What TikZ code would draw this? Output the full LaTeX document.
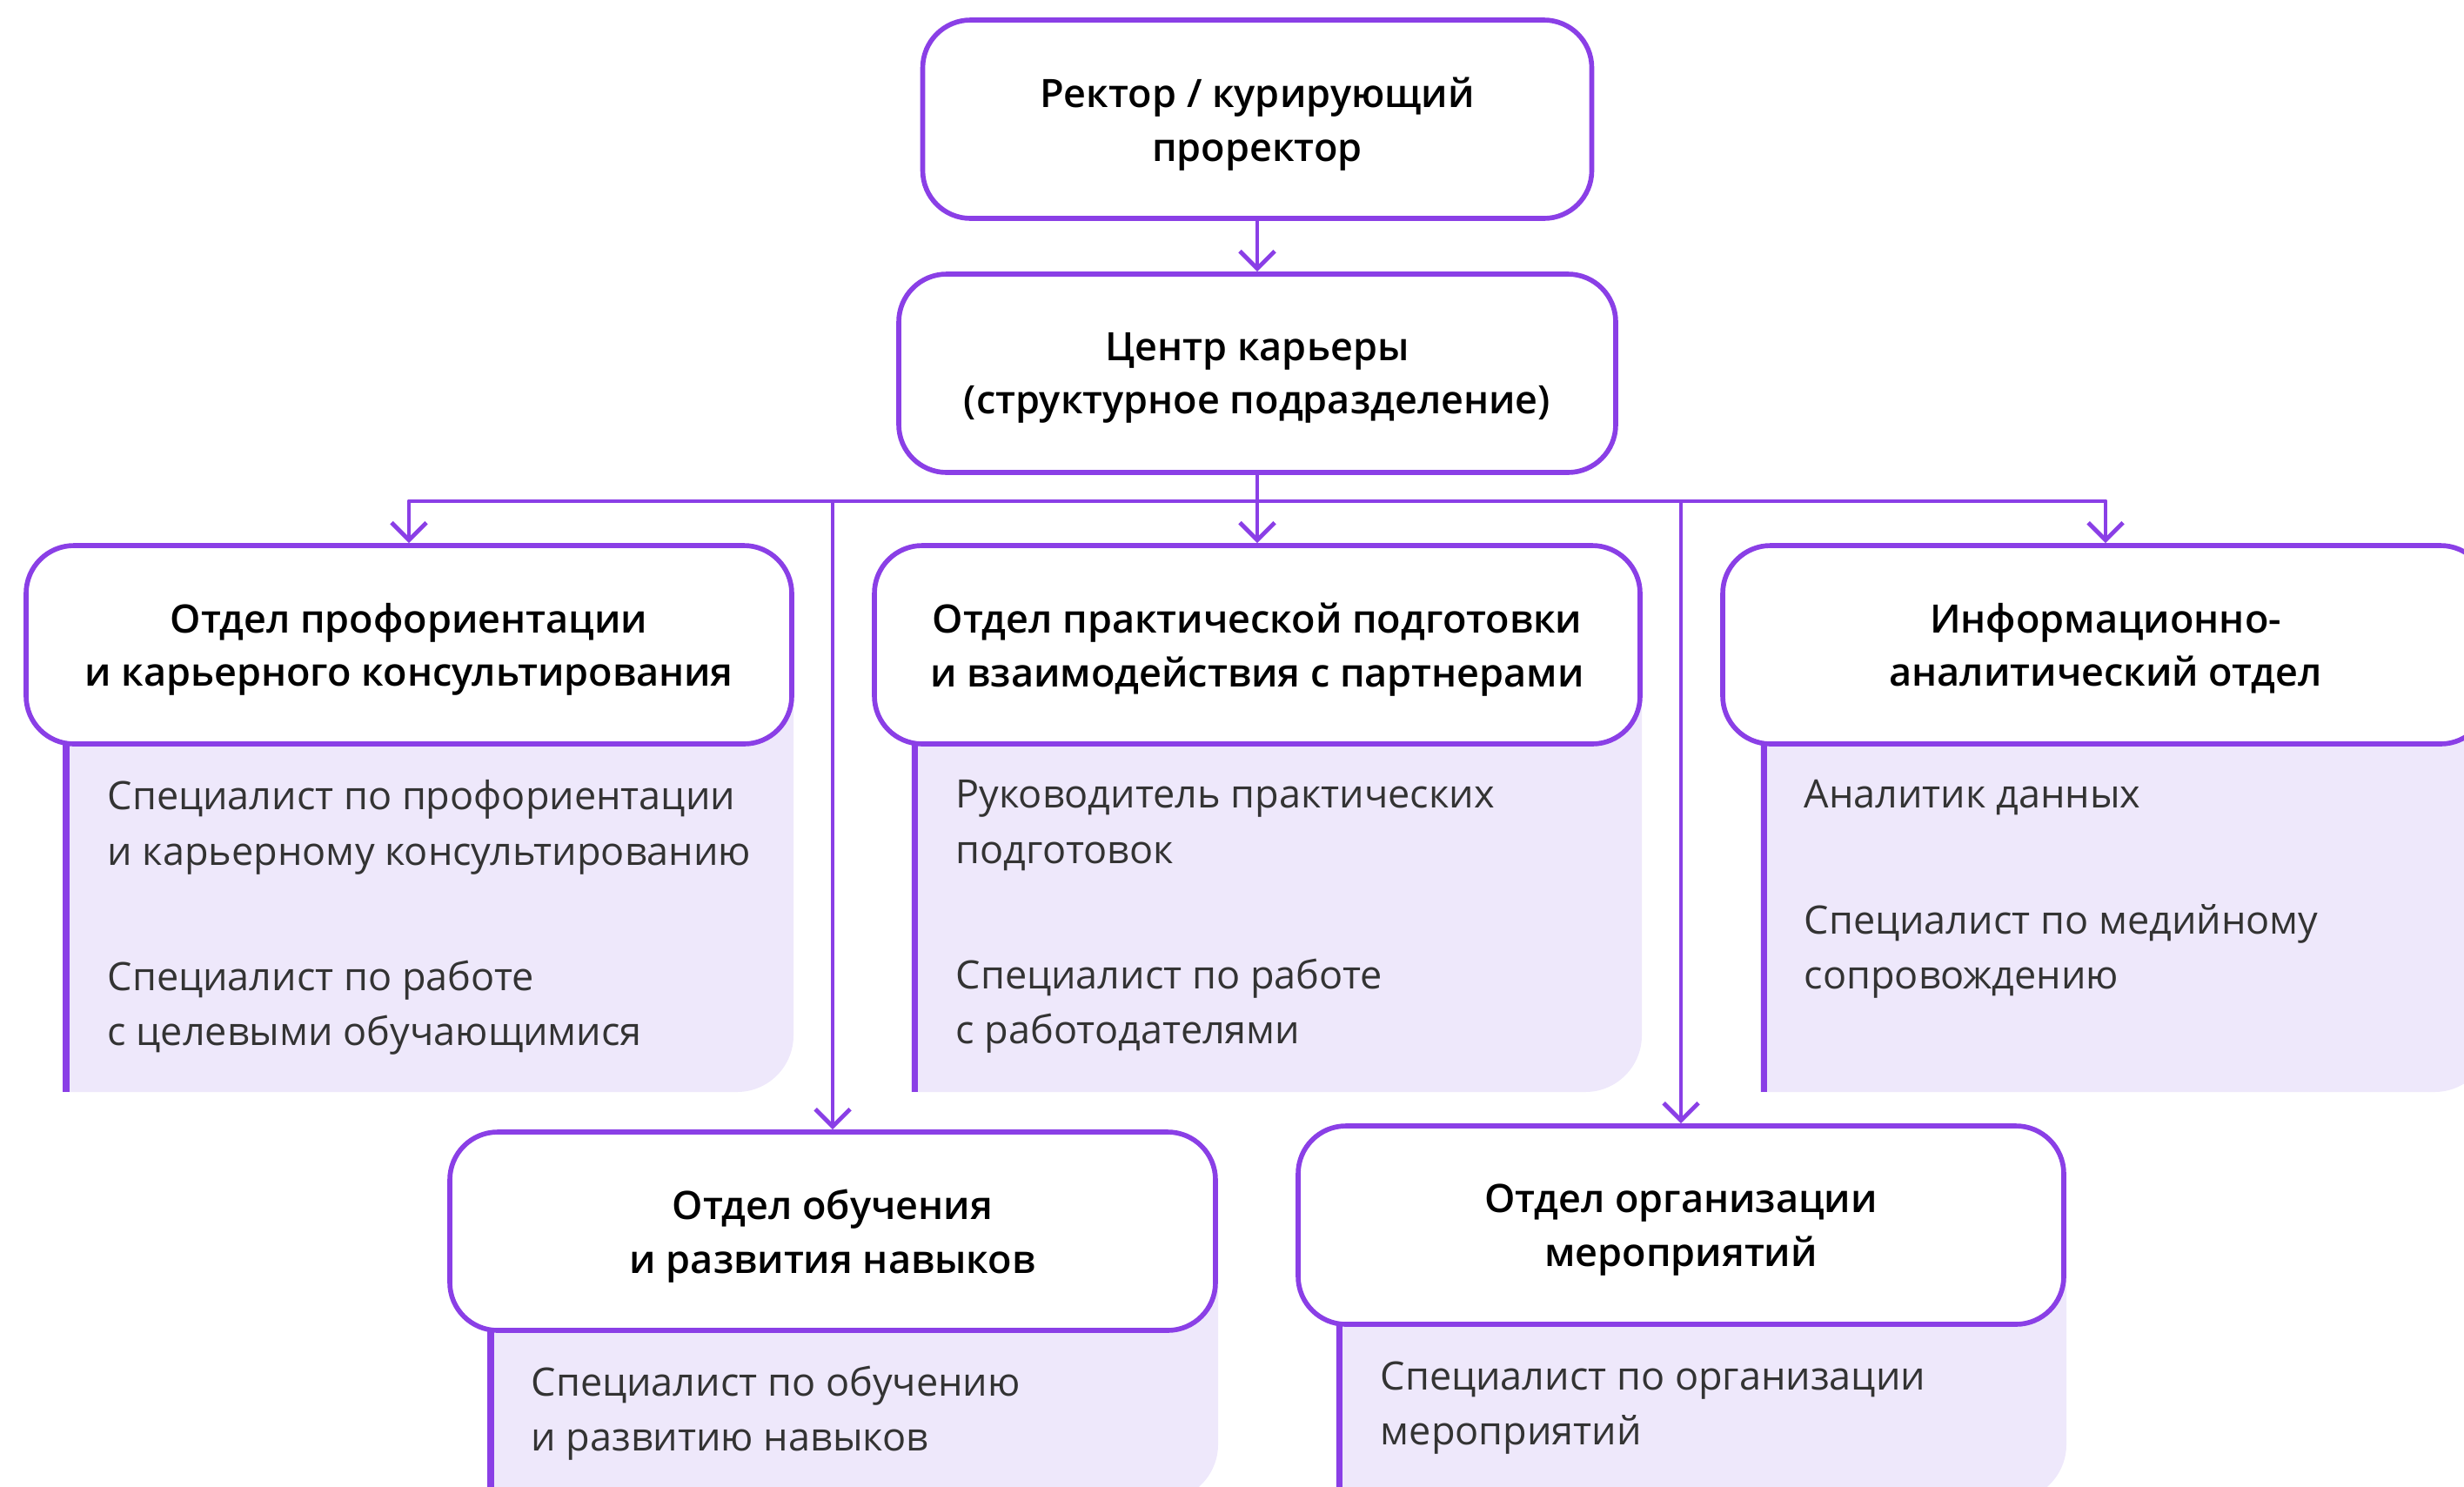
\documentclass[tikz,border=0pt]{standalone}
\usepackage{fontspec}
\IfFontExistsTF{Open Sans Semibold}
  {\setmainfont{Open Sans}[BoldFont={Open Sans Semibold}]}
  {\setmainfont{Open Sans}[BoldFont={Open Sans}, BoldFeatures={FakeBold=1.8}]}
\usetikzlibrary{arrows.meta}
\definecolor{cvio}{HTML}{8A3FE6}
\definecolor{lilac}{HTML}{EEE8FB}
\definecolor{inkgray}{HTML}{333333}

\begin{document}
\begin{tikzpicture}[
                box/.style={draw=cvio, line width=1.6pt, fill=white, rounded corners=0.55cm, minimum width=8.8cm, minimum height=2.28cm, align=center, text depth=0pt, text=black, font=\bfseries\fontsize{12.8}{17.5}\selectfont},
                link/.style={draw=cvio, line width=1.4pt, line cap=round, line join=round},
                arr/.style={link, -{Straight Barb[length=0.2cm, width=0.4cm]}},
                panel/.style={fill=lilac},
                bar/.style={draw=cvio, line width=2pt},
                staff/.style={anchor=north west, inner sep=0pt, align=left, text=inkgray, font=\fontsize{12.8}{18}\selectfont}
            ]
                \useasboundingbox (0,0) rectangle (28.32,-17.08);

                \fill[panel] (0.72,-7.40) -- (9.12,-7.40) -- (9.12,-11.90) arc[start angle=0, end angle=-90, radius=0.65] -- (0.72,-12.55) -- cycle;
                \fill[panel] (10.47,-7.40) -- (18.87,-7.40) -- (18.87,-11.90) arc[start angle=0, end angle=-90, radius=0.65] -- (10.47,-12.55) -- cycle;
                \fill[panel] (20.23,-7.40) -- (28.63,-7.40) -- (28.63,-11.90) arc[start angle=0, end angle=-90, radius=0.65] -- (20.23,-12.55) -- cycle;
                \fill[panel] (5.60,-14.14) -- (14.00,-14.14) -- (14.00,-16.60) arc[start angle=0, end angle=-90, radius=0.65] -- (5.60,-17.25) -- cycle;
                \fill[panel] (15.35,-14.07) -- (23.75,-14.07) -- (23.75,-16.60) arc[start angle=0, end angle=-90, radius=0.65] -- (15.35,-17.25) -- cycle;
                \draw[bar] (0.76,-8.54) -- (0.76,-12.55);
                \draw[bar] (10.51,-8.54) -- (10.51,-12.55);
                \draw[bar] (20.27,-8.54) -- (20.27,-12.55);
                \draw[bar] (5.64,-15.28) -- (5.64,-17.25);
                \draw[bar] (15.39,-15.21) -- (15.39,-17.25);

                \node[box, minimum width=7.69cm] (rector) at (14.45,-1.37) {Ректор / курирующий\\проректор};
                \node[box, minimum width=8.24cm] (career) at (14.45,-4.29) {Центр карьеры\\(структурное подразделение)};
                \node[box] (prof) at (4.70,-7.41) {Отдел профориентации\\и карьерного консультирования};
                \node[box] (prac) at (14.45,-7.41) {Отдел практической подготовки\\и взаимодействия с партнерами};
                \node[box] (info) at (24.20,-7.41) {Информационно-\\аналитический отдел};
                \node[box] (train) at (9.57,-14.15) {Отдел обучения\\и развития навыков};
                \node[box] (events) at (19.32,-14.08) {Отдел организации\\мероприятий};

                \node[staff] (profstaff) at (1.23,-8.96) {Специалист по профориентации\\и карьерному консультированию\\[23pt]Специалист по работе\\с целевыми обучающимися};
                \node[staff] (pracstaff) at (10.98,-8.96) {Руководитель практических\\подготовок\\[23pt]Специалист по работе\\с работодателями};
                \node[staff] (infostaff) at (20.73,-8.96) {Аналитик данных\\[23pt]Специалист по медийному\\сопровождению};
                \node[staff] (trainstaff) at (6.10,-15.69) {Специалист по обучению\\и развитию навыков};
                \node[staff] (eventsstaff) at (15.86,-15.64) {Специалист по организации\\мероприятий};

                \coordinate (bus) at (14.45,-5.76);
                \draw[arr] (rector) -- (career);
                \draw[link] (career) -- (bus);
                \draw[arr] (bus) -| (prof);
                \draw[arr] (bus) -- (prac);
                \draw[arr] (bus) -| (info);
                \draw[arr] (bus) -| (train);
                \draw[arr] (bus) -| (events);
            \end{tikzpicture}
\end{document}
